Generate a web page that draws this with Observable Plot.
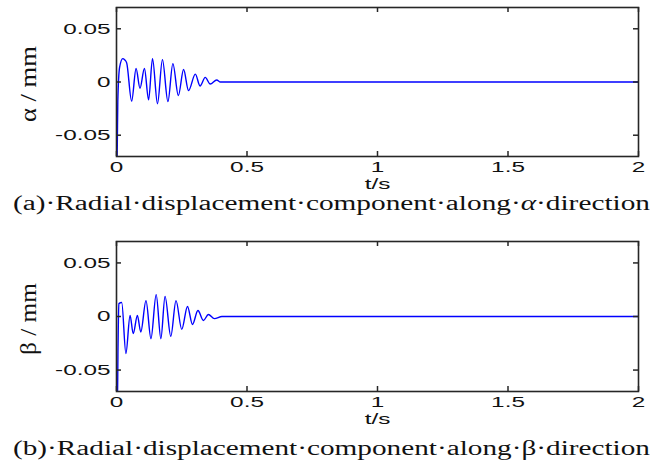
<!DOCTYPE html>
<html>
<head>
<meta charset="utf-8">
<script src="https://cdn.jsdelivr.net/npm/d3@7"></script>
<script src="https://cdn.jsdelivr.net/npm/@observablehq/plot@0.6"></script>
<style>
  html, body { margin: 0; padding: 0; background: #fff; }
  #root { position: relative; width: 662px; height: 465px; overflow: hidden; }
  .panel { position: absolute; left: 0; }
  .over { position: absolute; left: 0; top: 0; pointer-events: none; }
</style>
</head>
<body>
<div id="root">
  <div class="panel" id="pa" style="top:0px"></div>
  <div class="panel" id="pb" style="top:234px"></div>
  <svg class="over" width="662" height="465">
    <text id="ylabA" transform="translate(36,84) rotate(-90)" text-anchor="middle" font-family="Liberation Serif" font-size="23" fill="#111" textLength="76" lengthAdjust="spacingAndGlyphs"></text>
    <text id="ylabB" transform="translate(36,319) rotate(-90)" text-anchor="middle" font-family="Liberation Serif" font-size="23" fill="#111" textLength="72" lengthAdjust="spacingAndGlyphs"></text>
    <text id="capA" x="13" y="209.5" font-family="Liberation Serif" font-size="20" fill="#111" textLength="637" lengthAdjust="spacingAndGlyphs"></text>
    <text id="capB" x="13" y="455" font-family="Liberation Serif" font-size="20" fill="#111" textLength="637" lengthAdjust="spacingAndGlyphs"></text>
  </svg>
</div>
<script>
// ---- data ----
const xTicks = [0, 0.5, 1, 1.5, 2];
const yTicks = [-0.05, 0, 0.05];
const xLabel = "t/s";
const yLabelA = "α / mm";
const yLabelB = "β / mm";
const captionA = ["(a)·Radial·displacement·component·along·", "α", "·direction"];
const captionB = ["(b)·Radial·displacement·component·along·", "β", "·direction"];

// (a) radial displacement along alpha, mm vs t in s
const tA = [0, 0.003, 0.005, 0.012, 0.024, 0.031, 0.039, 0.058, 0.075, 0.090, 0.107, 0.123, 0.138, 0.157, 0.176, 0.197, 0.216, 0.237, 0.257, 0.276, 0.302, 0.320, 0.340, 0.359, 0.384, 0.398, 2];
const vA = [-0.09, -0.06, -0.018, 0.014, 0.022, 0.021, 0.018, -0.018, 0.0127, -0.0059, 0.0127, -0.0167, 0.0220, -0.0204, 0.0210, -0.0184, 0.0173, -0.0127, 0.0117, -0.0080, 0.0074, -0.0037, 0.0043, -0.0019, 0.0019, 0, 0];

// (b) radial displacement along beta
const tB = [0, 0.003, 0.006, 0.009, 0.020, 0.036, 0.052, 0.064, 0.080, 0.093, 0.113, 0.132, 0.152, 0.170, 0.186, 0.208, 0.228, 0.250, 0.272, 0.291, 0.312, 0.333, 0.352, 0.375, 0.404, 2];
const vB = [-0.09, -0.09, -0.025, 0.012, 0.013, -0.0346, 0.001, -0.016, 0.001, -0.0145, 0.0148, -0.0207, 0.0204, -0.0207, 0.0188, -0.0185, 0.0148, -0.012, 0.0093, -0.0074, 0.0056, -0.0037, 0.0019, -0.002, 0, 0];

const tickLen = 5;
const tickStyle = {stroke: "#262626", strokeWidth: 1.5};

function makePanel(ts, vs, marginBottom) {
  const data = ts.map((t, i) => ({t, v: vs[i]}));
  const height = 195, marginTop = 7, marginLeft = 116, marginRight = 24, width = 662;
  const fh = height - marginTop - marginBottom;
  const fw = width - marginLeft - marginRight;
  const svg = Plot.plot({
    width, height, marginTop, marginLeft, marginRight, marginBottom,
    style: {fontFamily: "Liberation Sans", fontSize: "15px", color: "#111", background: "transparent"},
    x: {domain: [0, 2]},
    y: {domain: [-0.07, 0.07]},
    marks: [
      Plot.line(data, {x: "t", y: "v", stroke: "#0000ff", strokeWidth: 1.4, clip: true, curve: "monotone-x"}),
      // inward ticks on all four sides (MATLAB box style)
      Plot.tickX(xTicks, {x: d => d, insetTop: fh - tickLen, ...tickStyle}),
      Plot.tickX(xTicks, {x: d => d, insetBottom: fh - tickLen, ...tickStyle}),
      Plot.tickY(yTicks, {y: d => d, insetRight: fw - tickLen, ...tickStyle}),
      Plot.tickY(yTicks, {y: d => d, insetLeft: fw - tickLen, ...tickStyle}),
      Plot.axisX({ticks: xTicks, tickSize: 0, tickPadding: 5, tickFormat: d => String(d), label: null}),
      Plot.axisY({ticks: yTicks, tickSize: 0, tickPadding: 6, tickFormat: d => String(d), label: null}),
      Plot.text([xLabel], {frameAnchor: "bottom", lineAnchor: "top", dy: 22, text: d => d, fontSize: 15}),
      Plot.frame({stroke: "#262626", strokeWidth: 1.6})
    ]
  });
  return svg;
}

const svgA = makePanel(tA, vA, 39);
const svgB = makePanel(tB, vB, 38);
document.getElementById("pa").appendChild(svgA);
document.getElementById("pb").appendChild(svgB);

// widen the sans labels horizontally, as in the source image
for (const svg of [svgA, svgB]) {
  svg.querySelectorAll("text").forEach(t => {
    if (!t.textContent) return;
    const w = t.getComputedTextLength();
    if (w > 0) {
      t.setAttribute("textLength", (w * 1.62).toFixed(1));
      t.setAttribute("lengthAdjust", "spacingAndGlyphs");
    }
  });
}

d3.select("#ylabA").text(yLabelA);
d3.select("#ylabB").text(yLabelB);
for (const [id, parts, italic] of [["#capA", captionA, true], ["#capB", captionB, false]]) {
  const el = d3.select(id);
  el.append("tspan").text(parts[0]);
  el.append("tspan").attr("font-style", italic ? "italic" : "normal").text(parts[1]);
  el.append("tspan").text(parts[2]);
}
</script>
</body>
</html>
